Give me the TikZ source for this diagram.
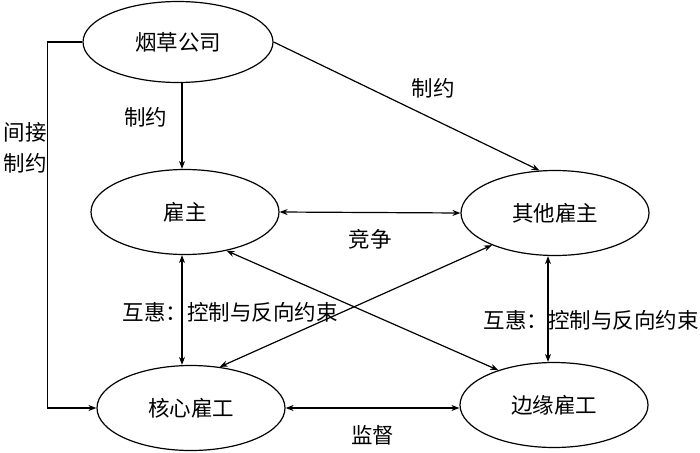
\documentclass[tikz,border=0pt]{standalone}
\usepackage{fontspec}
\newfontfamily\cjk{Noto Sans CJK SC}
\usetikzlibrary{shapes.geometric,arrows.meta}

\begin{document}
\begin{tikzpicture}[x=1pt, y=-1pt,
  party/.style={ellipse, draw, line width=1.2pt, inner sep=0pt, minimum width=188pt, minimum height=85pt, font=\cjk\fontsize{21.5}{26}\selectfont},
  rel/.style={line width=1.2pt, -{Stealth[length=8pt,width=6pt]}},
  both/.style={rel, {Stealth[length=8pt,width=6pt]}-{Stealth[length=8pt,width=6pt]}},
  lbl/.style={font=\cjk\fontsize{21.5}{31}\selectfont, inner sep=0pt, align=center}
]
  \useasboundingbox (0,0) rectangle (700,452);
  \node[party, minimum width=190pt, minimum height=81pt] (tobacco) at (178,42) {烟草公司};
  \node[party] (boss) at (185,212) {雇主};
  \node[party] (other) at (555,213) {其他雇主};
  \node[party] (core) at (191,408) {核心雇工};
  \node[party] (marg) at (554,405) {边缘雇工};
  % tobacco company
  \draw[rel] ([xshift=4pt]tobacco.south) -- ([xshift=-3pt]boss.north) node[lbl, pos=0.4, left=14pt] {制约};
  \draw[rel] (tobacco.east) -- (other.110) node[lbl, pos=0.6, above=20pt] {制约};
  \draw[rel] (tobacco.west) -- ++(-35,0) |- (core.west);
  \node[lbl] (indirect) at (25,148) {间接\\制约};
  % employers and workers
  \draw[both] (boss.east) -- (other.west) node[lbl, midway, below=16pt] {竞争};
  \draw[both] ([xshift=-3pt]boss.south) -- ([xshift=-9pt]core.north);
  \node[lbl] (recip1) at (230,312) {互惠：控制与反向约束};
  \draw[both] ([xshift=-7pt]other.south) -- ([xshift=-6pt]marg.north);
  \node[lbl] (recip2) at (591,320) {互惠：控制与反向约束};
  \draw[both] (boss.-43) -- (marg.148);
  \draw[both] (core.55) -- (other.207);
  \draw[both] (core.east) -- (marg.west |- core.east) node[lbl, midway, below=17pt] {监督};
\end{tikzpicture}
\end{document}
